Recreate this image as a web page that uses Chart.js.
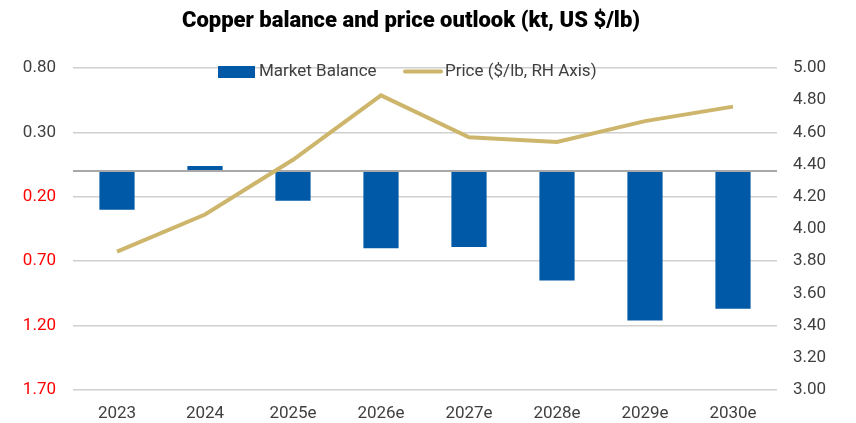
<!DOCTYPE html>
<html>
<head>
<meta charset="utf-8">
<script src="https://cdn.jsdelivr.net/npm/chart.js@4.4.1/dist/chart.umd.min.js"></script>
<style>
  html, body { margin: 0; padding: 0; background: #ffffff; }
  #wrap { width: 856px; height: 423px; position: relative; }
</style>
</head>
<body>
<div id="wrap"><canvas id="c" width="856" height="423"></canvas></div>
<script>
const categories = ['2023', '2024', '2025e', '2026e', '2027e', '2028e', '2029e', '2030e'];
const marketBalance = [-0.30, 0.04, -0.23, -0.60, -0.59, -0.85, -1.16, -1.07];
const price = [3.86, 4.09, 4.43, 4.83, 4.57, 4.54, 4.67, 4.76];
const leftTickValues = [0.8, 0.3, -0.2, -0.7, -1.2, -1.7];
const rightMin = 3.0, rightMax = 5.0, rightStep = 0.2;
const seriesNames = ['Market Balance', 'Price ($/lb, RH Axis)'];
const titleText = 'Copper balance and price outlook (kt, US $/lb)';

const BLUE = '#0059A6';
const GOLD = '#CDB66C';
const TEXT = '#404040';
const FONT = 'Roboto, "Liberation Sans", Arial, sans-serif';

const titleLegendPlugin = {
  id: 'titleLegend',
  afterDraw(chart) {
    const ctx = chart.ctx;
    ctx.save();
    // title
    ctx.font = '900 22px ' + FONT;
    ctx.fillStyle = '#000000';
    ctx.textAlign = 'center';
    ctx.textBaseline = 'alphabetic';
    ctx.fillText(titleText, 411, 27);
    // legend
    ctx.font = '17px ' + FONT;
    ctx.textBaseline = 'middle';
    ctx.textAlign = 'left';
    ctx.fillStyle = BLUE;
    ctx.fillRect(218, 66, 37, 12);
    ctx.fillStyle = TEXT;
    ctx.fillText(seriesNames[0], 259, 72);
    ctx.strokeStyle = GOLD;
    ctx.lineWidth = 4;
    ctx.lineCap = 'round';
    ctx.beginPath();
    ctx.moveTo(405, 71.5);
    ctx.lineTo(441, 71.5);
    ctx.stroke();
    ctx.fillText(seriesNames[1], 445, 72);
    ctx.restore();
  }
};

new Chart(document.getElementById('c'), {
  type: 'bar',
  data: {
    labels: categories,
    datasets: [
      {
        type: 'line',
        label: seriesNames[1],
        data: price,
        yAxisID: 'yR',
        borderColor: GOLD,
        borderWidth: 4,
        pointRadius: 0,
        tension: 0,
        fill: false
      },
      {
        type: 'bar',
        label: seriesNames[0],
        data: marketBalance,
        yAxisID: 'yL',
        backgroundColor: BLUE,
        borderWidth: 0,
        categoryPercentage: 1.0,
        barPercentage: 0.4
      }
    ]
  },
  options: {
    responsive: false,
    animation: false,
    devicePixelRatio: 1,
    layout: { padding: { left: 0, right: 0, top: 68, bottom: 0 } },
    plugins: {
      legend: { display: false },
      tooltip: { enabled: false },
      title: { display: false }
    },
    scales: {
      x: {
        grid: { display: false, drawTicks: false },
        border: { display: false },
        ticks: { color: TEXT, font: { family: FONT, size: 17 }, padding: 14, maxRotation: 0 },
        afterFit(scale) { scale.height = 33; }
      },
      yL: {
        position: 'left',
        min: -1.7,
        max: 0.8,
        afterBuildTicks(scale) {
          const vals = leftTickValues.concat([0]);
          scale.ticks = vals.sort((a, b) => a - b).map(v => ({ value: v }));
        },
        afterFit(scale) { scale.width = 73; },
        grid: {
          drawTicks: false,
          color: (c) => (c.tick && c.tick.value === 0) ? '#A8A8A8' : '#D0D0D0',
          lineWidth: (c) => (c.tick && c.tick.value === 0) ? 2 : 1.5
        },
        border: { display: false },
        ticks: {
          padding: 17,
          font: { family: FONT, size: 17 },
          color: (c) => (c.tick && c.tick.value < 0) ? '#FF0000' : TEXT,
          callback: (v) => v === 0 ? '' : Math.abs(v).toFixed(2)
        }
      },
      yR: {
        position: 'right',
        min: rightMin,
        max: rightMax,
        afterFit(scale) { scale.width = 79; },
        grid: { display: false, drawTicks: false },
        border: { display: false },
        ticks: {
          stepSize: rightStep,
          padding: 16,
          font: { family: FONT, size: 17 },
          color: TEXT,
          callback: (v) => Number(v).toFixed(2)
        }
      }
    }
  },
  plugins: [titleLegendPlugin]
});
</script>
</body>
</html>
